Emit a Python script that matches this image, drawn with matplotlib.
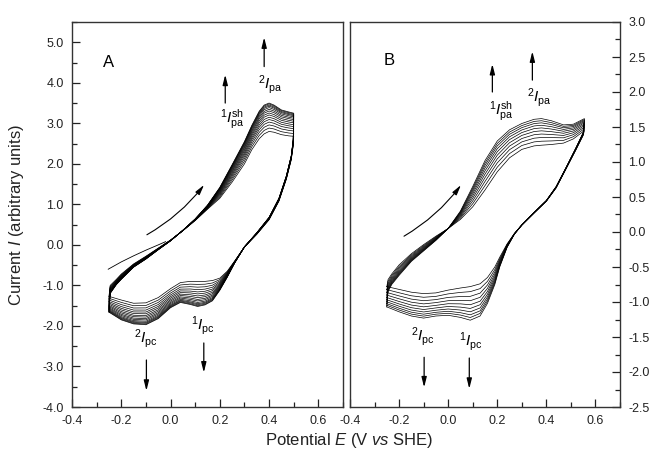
import numpy as np
import matplotlib
matplotlib.use("Agg")
import matplotlib.pyplot as plt
from matplotlib.ticker import MultipleLocator, FormatStrFormatter

plt.rcParams['font.family'] = ['Liberation Sans', 'DejaVu Sans']
plt.rcParams['mathtext.fontset'] = 'custom'
plt.rcParams['mathtext.rm'] = 'Liberation Sans'
plt.rcParams['mathtext.it'] = 'Liberation Sans:italic'
plt.rcParams['axes.unicode_minus'] = False

# ---- panel A: first and last recorded cycle ----
a_an_E = [-0.25, -0.245, -0.22, -0.2, -0.15, -0.1, -0.05, 0.0, 0.05, 0.1, 0.15,
          0.2, 0.25, 0.3, 0.33, 0.36, 0.38, 0.40, 0.42, 0.45, 0.48, 0.5]
a_an_first = [-1.27, -1.0, -0.85, -0.72, -0.47, -0.28, -0.08, 0.12, 0.35, 0.6, 0.88,
              1.15, 1.55, 2.0, 2.35, 2.62, 2.74, 2.8, 2.78, 2.72, 2.69, 2.68]
a_an_last = [-1.66, -1.2, -0.98, -0.85, -0.55, -0.35, -0.12, 0.1, 0.36, 0.64, 0.98,
             1.42, 1.98, 2.55, 2.95, 3.3, 3.45, 3.5, 3.45, 3.33, 3.28, 3.25]
a_ca_E = [0.5, 0.498, 0.49, 0.47, 0.44, 0.40, 0.35, 0.30, 0.26, 0.23, 0.20, 0.17,
          0.14, 0.11, 0.08, 0.04, 0.0, -0.05, -0.1, -0.15, -0.2, -0.25]
a_ca_first = [2.68, 2.45, 2.1, 1.62, 1.08, 0.62, 0.26, -0.05, -0.4, -0.65, -0.82, -0.88,
              -0.9, -0.9, -0.9, -0.93, -1.08, -1.3, -1.43, -1.44, -1.36, -1.27]
a_ca_last = [3.25, 2.6, 2.2, 1.7, 1.15, 0.68, 0.3, -0.05, -0.45, -0.8, -1.12, -1.38,
             -1.48, -1.52, -1.47, -1.42, -1.55, -1.82, -1.97, -1.95, -1.85, -1.66]
# growth of each cycle between first and last (from line spacing)
a_cycles = [0, 0.12, 0.23, 0.33, 0.42, 0.5, 0.58, 0.65, 0.72, 0.78, 0.84, 0.89, 0.93, 0.97, 1.0]
# initial scan
a_init_E = [-0.253, -0.2, -0.15, -0.1, -0.05, -0.02]
a_init_I = [-0.6, -0.42, -0.27, -0.13, 0.0, 0.08]

# ---- panel B ----
b_an_E = [-0.25, -0.245, -0.23, -0.2, -0.15, -0.1, -0.05, 0.0, 0.05, 0.1, 0.15,
          0.2, 0.25, 0.3, 0.35, 0.38, 0.42, 0.47, 0.51, 0.555]
b_an_first = [-0.78, -0.68, -0.6, -0.47, -0.31, -0.18, -0.06, 0.05, 0.18, 0.36, 0.6,
              0.86, 1.06, 1.18, 1.23, 1.24, 1.25, 1.27, 1.33, 1.45]
b_an_last = [-1.07, -0.85, -0.75, -0.62, -0.42, -0.27, -0.12, 0.05, 0.3, 0.65, 1.02,
             1.3, 1.46, 1.55, 1.61, 1.62, 1.59, 1.53, 1.54, 1.62]
b_ca_E = [0.555, 0.55, 0.52, 0.48, 0.44, 0.40, 0.35, 0.30, 0.27, 0.24, 0.21, 0.19,
          0.16, 0.13, 0.09, 0.05, 0.0, -0.05, -0.1, -0.15, -0.2, -0.25]
b_ca_first = [1.45, 1.38, 1.17, 0.9, 0.63, 0.44, 0.27, 0.1, -0.02, -0.17, -0.36, -0.5,
              -0.65, -0.74, -0.78, -0.8, -0.83, -0.87, -0.88, -0.86, -0.82, -0.78]
b_ca_last = [1.62, 1.42, 1.2, 0.92, 0.65, 0.45, 0.28, 0.1, -0.03, -0.22, -0.5, -0.75,
             -1.02, -1.2, -1.26, -1.22, -1.19, -1.2, -1.23, -1.2, -1.14, -1.07]
b_cycles = [0, 0.15, 0.29, 0.42, 0.54, 0.65, 0.75, 0.84, 0.92, 1.0]

HEAD = '-|>,head_length=0.6,head_width=0.15'


def draw_cycles(ax, anE, an1, an2, caE, ca1, ca2, cycles):
    E = np.array(anE + caE)
    first = np.array(an1 + ca1)
    last = np.array(an2 + ca2)
    for f in cycles:
        ax.plot(E, first + f * (last - first), color='black', lw=0.5)


def label(ax, x, y, text, x0, y0, y1):
    ax.text(x, y, text, fontsize=11, ha='left', va='center')
    ax.annotate('', xy=(x0, y1), xytext=(x0, y0),
                arrowprops=dict(arrowstyle=HEAD, color='black', lw=0.9,
                                shrinkA=0, shrinkB=0))


def style(ax, major, minor, side):
    ax.set_xlim(-0.4, 0.7)
    ax.xaxis.set_major_locator(MultipleLocator(0.2))
    ax.xaxis.set_minor_locator(MultipleLocator(0.1))
    ax.yaxis.set_major_locator(MultipleLocator(major))
    ax.yaxis.set_minor_locator(MultipleLocator(minor))
    ax.xaxis.set_major_formatter(FormatStrFormatter('%.1f'))
    ax.yaxis.set_major_formatter(FormatStrFormatter('%.1f'))
    left = side == 'left'
    ax.tick_params(which='both', direction='in', top=False, bottom=True,
                   left=left, right=not left, labelleft=left, labelright=not left,
                   labelsize=9, width=0.9, pad=6, colors='#222222')
    ax.tick_params(which='major', length=6)
    ax.tick_params(which='minor', length=3.5)
    for s in ax.spines.values():
        s.set_linewidth(1.0)
        s.set_color('#333333')


fig = plt.figure(figsize=(6.56, 4.59), dpi=100)
axA = fig.add_axes([72 / 656, 52 / 459, 271 / 656, 385 / 459])
axB = fig.add_axes([350 / 656, 52 / 459, 270 / 656, 385 / 459])

# panel A
draw_cycles(axA, a_an_E, a_an_first, a_an_last, a_ca_E, a_ca_first, a_ca_last, a_cycles)
axA.plot(a_init_E, a_init_I, color='black', lw=0.6)
axA.annotate('', xy=(0.136, 1.48), xytext=(-0.096, 0.25),
             arrowprops=dict(arrowstyle=HEAD, color='black', lw=0.8,
                             shrinkA=0, shrinkB=0, connectionstyle='arc3,rad=0.1'))
axA.set_ylim(-4.0, 5.5)
style(axA, 1.0, 0.5, 'left')
axA.text(-0.25, 4.5, 'A', fontsize=12, ha='center', va='center')
label(axA, 0.355, 3.95, r'$^{2}\mathit{I}_{\mathrm{pa}}$', 0.38, 4.4, 5.12)
label(axA, 0.2, 3.1, r'$^{1}\mathit{I}_{\mathrm{pa}}^{\mathrm{sh}}$', 0.222, 3.5, 4.2)
label(axA, -0.15, -2.3, r'$^{2}\mathit{I}_{\mathrm{pc}}$', -0.098, -2.84, -3.6)
label(axA, 0.085, -1.98, r'$^{1}\mathit{I}_{\mathrm{pc}}$', 0.135, -2.42, -3.15)

# panel B
draw_cycles(axB, b_an_E, b_an_first, b_an_last, b_ca_E, b_ca_first, b_ca_last, b_cycles)
axB.annotate('', xy=(0.052, 0.67), xytext=(-0.18, -0.06),
             arrowprops=dict(arrowstyle=HEAD, color='black', lw=0.8,
                             shrinkA=0, shrinkB=0, connectionstyle='arc3,rad=0.1'))
axB.set_ylim(-2.5, 3.0)
style(axB, 0.5, 0.25, 'right')
axB.text(-0.24, 2.45, 'B', fontsize=12, ha='center', va='center')
label(axB, 0.32, 1.92, r'$^{2}\mathit{I}_{\mathrm{pa}}$', 0.343, 2.17, 2.58)
label(axB, 0.165, 1.73, r'$^{1}\mathit{I}_{\mathrm{pa}}^{\mathrm{sh}}$', 0.18, 2.0, 2.4)
label(axB, -0.15, -1.5, r'$^{2}\mathit{I}_{\mathrm{pc}}$', -0.098, -1.79, -2.22)
label(axB, 0.043, -1.56, r'$^{1}\mathit{I}_{\mathrm{pc}}$', 0.086, -1.8, -2.24)

fig.text(17 / 656, 1 - 215 / 459, r'Current $\mathit{I}$ (arbitrary units)',
         rotation=90, ha='center', va='center', fontsize=12, color='#222222')
fig.text(349 / 656, 1 - 440 / 459, r'Potential $\mathit{E}$ (V $\mathit{vs}$ SHE)',
         ha='center', va='center', fontsize=12, color='#222222')

fig.savefig('out.png', dpi=100)
